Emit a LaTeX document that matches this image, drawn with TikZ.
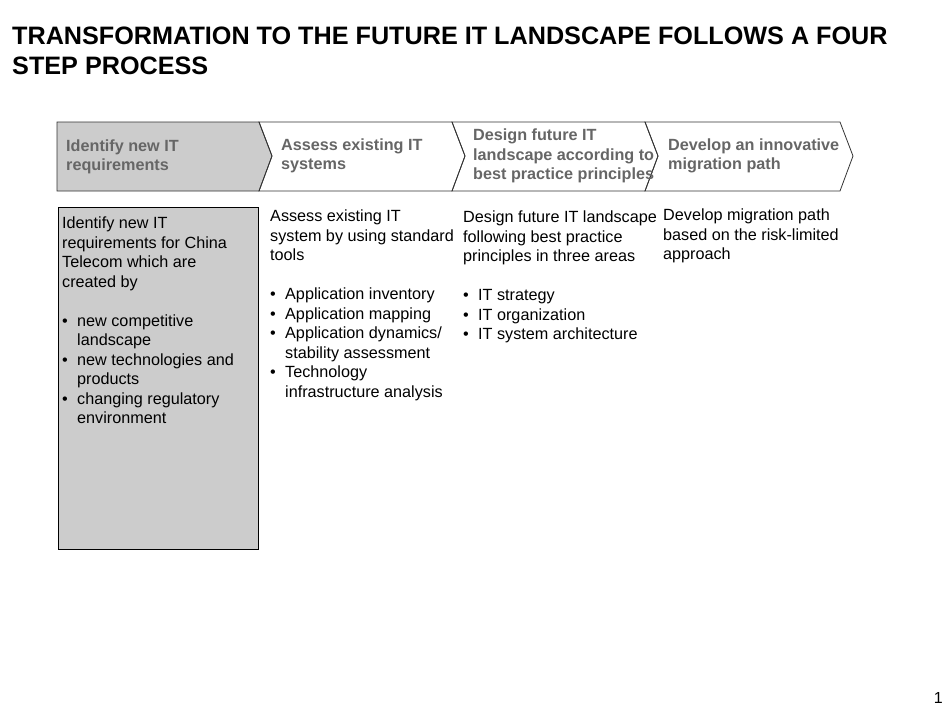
\documentclass[tikz,border=0pt]{standalone}
\usepackage{fontspec}
\setmainfont{Liberation Sans}
\newcommand{\bul}{\makebox[15pt][l]{\textbullet}}
\newcommand{\ind}{\hspace*{15pt}}
\begin{document}
\begin{tikzpicture}[x=1pt,y=-1pt,
  chev/.style={draw=black!80,line width=0.8pt},
  ctext/.style={anchor=west,align=left,font=\fontsize{16.2}{19.5}\selectfont\bfseries,text=black!60,inner sep=0pt},
  btext/.style={anchor=north west,align=left,font=\fontsize{16.2}{19.5}\selectfont,inner sep=0pt}]
\useasboundingbox (0,0) rectangle (950,713);
\node[anchor=north west,align=left,inner sep=0pt,font=\fontsize{25.2}{30}\selectfont\bfseries] (title) at (12,27)
 {TRANSFORMATION TO THE FUTURE IT LANDSCAPE FOLLOWS A FOUR\\STEP PROCESS};
\draw[chev,fill=black!20] (57,122) -- (259,122) -- (272,156) -- (259,191) -- (57,191) -- cycle;
\draw[chev] (259,122) -- (452,122) -- (465,156) -- (452,191) -- (259,191) -- (272,156) -- cycle;
\draw[chev] (452,122) -- (645,122) -- (658,156) -- (645,191) -- (452,191) -- (465,156) -- cycle;
\draw[chev] (645,122) -- (840,122) -- (853,156) -- (840,191) -- (645,191) -- (658,156) -- cycle;
\node[ctext] (c1) at (66,157) {Identify new IT\\requirements};
\node[ctext] (c2) at (281,156) {Assess existing IT\\systems};
\node[ctext] (c3) at (473,156) {Design future IT\\landscape according to\\best practice principles};
\node[ctext] (c4) at (668,156) {Develop an innovative\\migration path};
\draw[draw=black,fill=black!20,line width=0.8pt] (58,207) rectangle (258,549);
\node[btext] (b1) at (62,217) {Identify new IT\\requirements for China\\Telecom which are\\created by\\[19.5pt]
 \bul new competitive\\\ind landscape\\
 \bul new technologies and\\\ind products\\
 \bul changing regulatory\\\ind environment};
\node[btext] (b2) at (270,210) {Assess existing IT\\system by using standard\\tools\\[19.5pt]
 \bul Application inventory\\
 \bul Application mapping\\
 \bul Application dynamics/\\\ind stability assessment\\
 \bul Technology\\\ind infrastructure analysis};
\node[btext] (b3) at (463,211) {Design future IT landscape\\following best practice\\principles in three areas\\[19.5pt]
 \bul IT strategy\\
 \bul IT organization\\
 \bul IT system architecture};
\node[btext] (b4) at (663,209) {Develop migration path\\based on the risk-limited\\approach};
\node[anchor=north east,inner sep=0pt,font=\fontsize{16}{18}\selectfont] (pg) at (943,692) {1};
\end{tikzpicture}
\end{document}
